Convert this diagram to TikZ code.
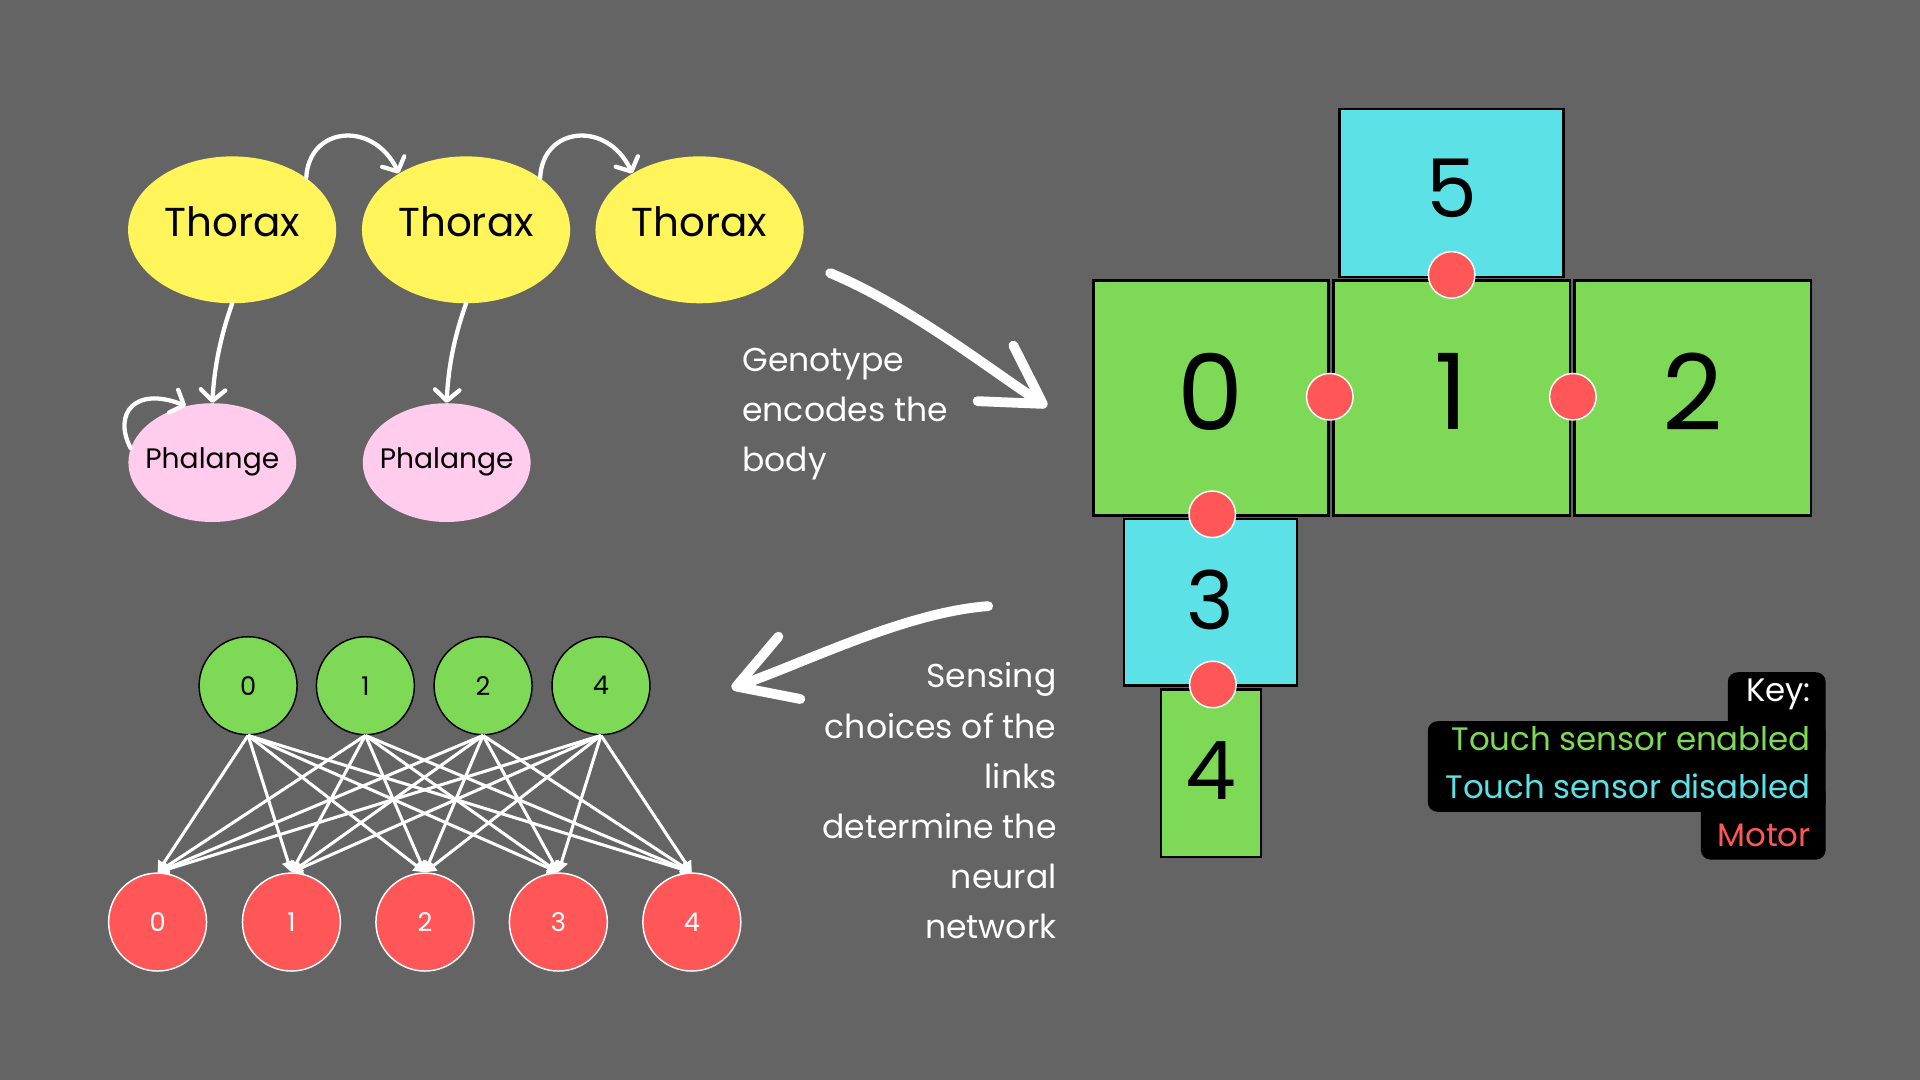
\documentclass[tikz,border=0pt]{standalone}
\usepackage{fontspec}
\setmainfont{Poppins}
\usetikzlibrary{shapes.geometric,arrows.meta}

\definecolor{bggray}{RGB}{100,100,100}
\definecolor{thoraxyellow}{RGB}{255,245,90}
\definecolor{phalangepink}{RGB}{255,204,238}
\definecolor{sensorgreen}{RGB}{126,217,87}
\definecolor{sensorcyan}{RGB}{92,225,230}
\definecolor{motorred}{RGB}{255,87,87}

\tikzset{
  thorax/.style={ellipse, fill=thoraxyellow, minimum width=170pt, minimum height=120pt, inner sep=0pt, text depth=14pt, font=\fontsize{33}{33}\selectfont},
  phalange/.style={ellipse, fill=phalangepink, minimum width=137pt, minimum height=97pt, inner ysep=0pt, inner xsep=-12pt, text depth=8pt, font=\fontsize{23}{23}\selectfont},
  linkon/.style={draw=black, line width=2pt, fill=sensorgreen, inner sep=0pt},
  linkoff/.style={draw=black, line width=2pt, fill=sensorcyan, inner sep=0pt},
  motor/.style={ellipse, draw=white, line width=1.2pt, fill=motorred, minimum width=38pt, minimum height=38pt, inner sep=0pt},
  innode/.style={circle, draw=black, line width=1.2pt, fill=sensorgreen, minimum size=80pt, inner sep=0pt, font=\fontsize{21}{21}\selectfont},
  outnode/.style={circle, draw=white, line width=1.2pt, fill=motorred, text=white, minimum size=80pt, inner sep=0pt, font=\fontsize{21}{21}\selectfont},
  gene/.style={white, line width=3.5pt, line cap=round, -{Straight Barb[length=9pt,width=20pt,round]}},
  bigarrow/.style={white, line width=8pt, line cap=round, -{Straight Barb[length=46pt,width=54pt,round]}},
  synapse/.style={white, line width=2.5pt, -{Triangle[length=9pt,width=10pt]}},
  caption/.style={text=white, inner sep=0pt, font=\fontsize{27}{41}\selectfont},
  keyline/.style={anchor=base east, inner sep=0pt, font=\fontsize{26.5}{26.5}\selectfont},
  keybox/.style={fill=black, rounded corners=8pt},
}

\begin{document}
\begin{tikzpicture}[x=1pt,y=-1pt]

\fill[bggray] (0,0) rectangle (1568,882);

% genotype graph
\node[thorax] (th1) at (189.6,187.7) {Thorax};
\node[thorax] (th2) at (380.6,187.7) {Thorax};
\node[thorax] (th3) at (571.3,187.7) {Thorax};
\node[phalange] (ph1) at (173.4,377.8) {Phalange};
\node[phalange] (ph2) at (364.8,377.8) {Phalange};

\draw[gene] (th1.35) .. controls (252,103) and (305,98) .. (th2.140);
\draw[gene] (th2.35) .. controls (443,103) and (496,98) .. (th3.140);
\draw[gene] (th1.south) .. controls (180,275) and (175,300) .. (ph1.north);
\draw[gene] (th2.south) .. controls (371,275) and (366,300) .. (ph2.north);
\draw[gene] (ph1.170) .. controls (92,338) and (110,315) .. (ph1.115);

\coordinate (genostart) at (678,223);
\coordinate (genotip) at (855,332);
\draw[bigarrow] (genostart) .. controls (743,250) and (810,303) .. (genotip);
\node[caption, anchor=north west, align=left] (genotext) at (606,284) {Genotype\\encodes the\\body};

% body
\node[linkoff, minimum width=183pt, minimum height=137pt, text depth=8pt, font=\fontsize{66}{66}\selectfont] (b5) at (1185.5,157.5) {5};
\node[linkon, minimum width=192pt, minimum height=192pt, text depth=10pt, font=\fontsize{86}{86}\selectfont] (b0) at (989,325) {0};
\node[linkon, minimum width=193pt, minimum height=192pt, text depth=10pt, font=\fontsize{86}{86}\selectfont] (b1) at (1185.5,325) {1};
\node[linkon, minimum width=193pt, minimum height=192pt, text depth=10pt, font=\fontsize{86}{86}\selectfont] (b2) at (1382.5,325) {2};
\node[linkoff, minimum width=141pt, minimum height=136pt, text depth=4pt, font=\fontsize{66}{66}\selectfont] (b3) at (988.5,492) {3};
\node[linkon, minimum width=82pt, minimum height=137pt, text depth=4pt, font=\fontsize{66}{66}\selectfont] (b4) at (989,631.5) {4};

\node[motor] (m15) at (1185.5,224.5) {};
\node[motor] (m01) at (1086,324) {};
\node[motor] (m12) at (1284.5,324) {};
\node[motor] (m03) at (990,420) {};
\node[motor] (m34) at (990.5,559) {};

% key
\fill[keybox] (1411,549) rectangle (1491,620);
\fill[keybox] (1166,589) rectangle (1491,663);
\fill[keybox] (1389,640) rectangle (1491,702);
\node[keyline, text=white] (keyhead) at (1479,573) {Key:};
\node[keyline, text=sensorgreen] (keyon) at (1479,613) {Touch sensor enabled};
\node[keyline, text=sensorcyan] (keyoff) at (1479,652.5) {Touch sensor disabled};
\node[keyline, text=motorred] (keymotor) at (1479,691.3) {Motor};

% network
\coordinate (sensestart) at (807,495);
\coordinate (sensetip) at (597.5,562);
\draw[bigarrow] (sensestart) .. controls (740,500) and (660,540) .. (sensetip);
\node[caption, anchor=north east, align=right] (sensetext) at (863,541) {Sensing\\choices of the\\links\\determine the\\neural\\network};

\node[innode] (s0) at (202.6,560) {0};
\node[innode] (s1) at (298.4,560) {1};
\node[innode] (s2) at (394.5,560) {2};
\node[innode] (s4) at (490.8,560) {4};

\node[outnode] (o0) at (128.7,753) {0};
\node[outnode] (o1) at (238,753) {1};
\node[outnode] (o2) at (347,753) {2};
\node[outnode] (o3) at (456,753) {3};
\node[outnode] (o4) at (565,753) {4};

\draw[synapse] (s0.south) -- (o0.north);
\draw[synapse] (s0.south) -- (o1.north);
\draw[synapse] (s0.south) -- (o2.north);
\draw[synapse] (s0.south) -- (o3.north);
\draw[synapse] (s0.south) -- (o4.north);
\draw[synapse] (s1.south) -- (o0.north);
\draw[synapse] (s1.south) -- (o1.north);
\draw[synapse] (s1.south) -- (o2.north);
\draw[synapse] (s1.south) -- (o3.north);
\draw[synapse] (s1.south) -- (o4.north);
\draw[synapse] (s2.south) -- (o0.north);
\draw[synapse] (s2.south) -- (o1.north);
\draw[synapse] (s2.south) -- (o2.north);
\draw[synapse] (s2.south) -- (o3.north);
\draw[synapse] (s2.south) -- (o4.north);
\draw[synapse] (s4.south) -- (o0.north);
\draw[synapse] (s4.south) -- (o1.north);
\draw[synapse] (s4.south) -- (o2.north);
\draw[synapse] (s4.south) -- (o3.north);
\draw[synapse] (s4.south) -- (o4.north);

\end{tikzpicture}
\end{document}
